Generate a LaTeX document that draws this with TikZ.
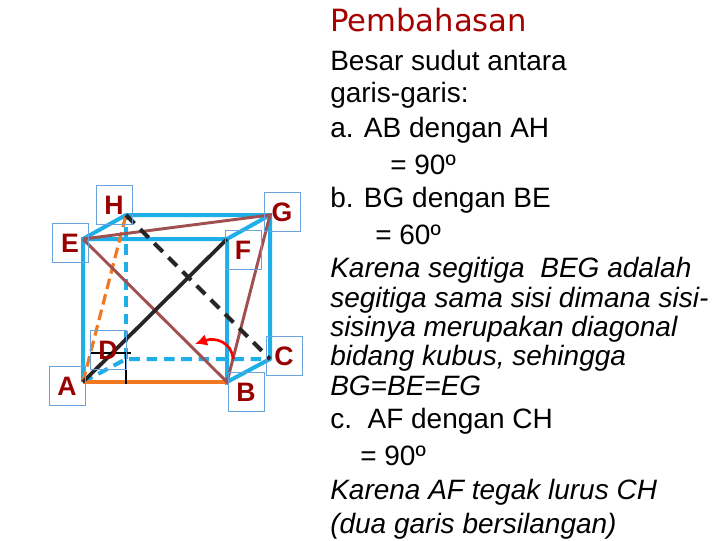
\documentclass[tikz,border=0pt]{standalone}
\usepackage{fontspec}
\usetikzlibrary{arrows.meta}
\setmainfont{Liberation Sans}
\newfontfamily\titlefont{DejaVu Sans}
\begin{document}
\begin{tikzpicture}[x=0.75pt,y=-0.75pt,
  edge/.style={line width=3pt},
  hid/.style={edge, dash pattern=on 8pt off 5pt},
  lbl/.style={draw=cyan!60!blue!60!white, line width=0.5pt, minimum width=27pt, minimum height=29pt, inner sep=0pt, text=red!60!black, font=\bfseries\fontsize{20}{22}\selectfont},
  txt/.style={anchor=west, inner sep=0pt, font=\fontsize{21}{24}\selectfont},
  itx/.style={txt, font=\fontsize{21}{24}\selectfont\itshape}]
\useasboundingbox (0,0) rectangle (720,540);
\definecolor{cub}{HTML}{1EAEE8}
\definecolor{brn}{HTML}{A05050}
\definecolor{org}{HTML}{F07820}
\coordinate (A) at (83,382); \coordinate (B) at (227,382);
\coordinate (C) at (270,359); \coordinate (D) at (126,359);
\coordinate (E) at (83,239); \coordinate (F) at (227,239);
\coordinate (G) at (270,215); \coordinate (H) at (126,215);
\draw[hid,draw=cub] (A) -- (D) -- (C); \draw[hid,draw=cub] (D) -- (H);
\draw[edge,draw=cub] (A) -- (E) -- (F) -- (B) -- (C) -- (G) -- (H) -- (E);
\draw[edge,draw=cub] (F) -- (G);
\draw[line width=3pt, draw=org] (A) -- (B);
\draw[line width=2.4pt, draw=org, dash pattern=on 8pt off 4pt] (A) -- (H);
\draw[line width=2.2pt, draw=brn] (E) -- (B) -- (G) -- (E);
\draw[line width=2.8pt, black!85] (A) -- (F);
\draw[line width=3pt, black!85, dash pattern=on 9pt off 6pt] (H) -- (C);
\draw[line width=2.2pt] (90,353) -- (131,353); \draw[line width=2.2pt] (126,353) -- (126,384);
\draw[red, line width=2pt, -{Latex[length=9pt,width=9pt]}] (233,359) .. controls (232,342) and (215,337) .. (195,344);
\node[lbl] (lH) at (114,205) {H};
\node[lbl] (lE) at (70,243) {E};
\node[lbl] (lG) at (282,212) {G};
\node[lbl] (lF) at (243,250) {F};
\node[lbl] (lD) at (108,350) {D};
\node[lbl] (lC) at (284,356) {C};
\node[lbl] (lA) at (67,386) {A};
\node[lbl] (lB) at (246,392) {B};
\node[anchor=west, inner sep=0pt, text=red!65!black, font=\titlefont\fontsize{23}{26}\selectfont] (t0) at (330,20) {Pembahasan};
\node[txt] (t1) at (330,60) {Besar sudut antara};
\node[txt] (t2) at (330,95) {garis-garis:};
\node[txt] (t3) at (330,130) {a. AB dengan AH};
\node[txt] (t4) at (390,165) {= 90º};
\node[txt] (t5) at (330,200) {b. BG dengan BE};
\node[txt] (t6) at (375,235) {= 60º};
\node[itx] (t7) at (330,270) {Karena segitiga\ \ BEG adalah};
\node[itx] (t8) at (330,300) {segitiga sama sisi dimana sisi-};
\node[itx] (t9) at (330,329) {sisinya merupakan diagonal};
\node[itx] (t10) at (330,358) {bidang kubus, sehingga};
\node[itx] (t11) at (330,386) {BG=BE=EG};
\node[txt] (t12) at (330,421) {c.\ \ AF dengan CH};
\node[txt] (t13) at (360,456) {= 90º};
\node[itx] (t14) at (330,492) {Karena AF tegak lurus CH};
\node[itx] (t15) at (330,526) {(dua garis bersilangan)};
\end{tikzpicture}
\end{document}
